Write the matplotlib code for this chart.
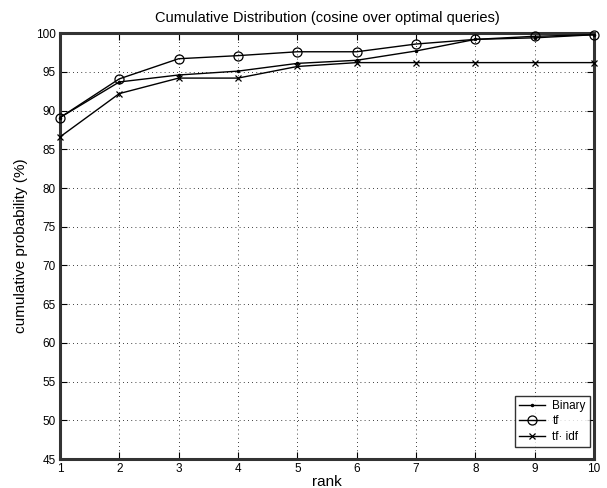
import matplotlib
matplotlib.use("Agg")
import matplotlib.pyplot as plt

plt.rcParams['font.family'] = ['Liberation Sans', 'DejaVu Sans']

rank = [1, 2, 3, 4, 5, 6, 7, 8, 9, 10]
binary = [89.1, 93.7, 94.6, 95.1, 96.1, 96.5, 97.7, 99.2, 99.4, 99.8]
tf = [89.1, 94.1, 96.7, 97.1, 97.6, 97.6, 98.6, 99.2, 99.6, 99.8]
tfidf = [86.6, 92.2, 94.2, 94.2, 95.7, 96.2, 96.2, 96.2, 96.2, 96.2]
yticks = [45, 50, 55, 60, 65, 70, 75, 80, 85, 90, 95, 100]

fig = plt.figure(figsize=(6.07, 4.88), dpi=100)
ax = fig.add_axes([0.0988, 0.0594, 0.8798, 0.8726])

ax.plot(rank, binary, color='black', lw=1, marker='.', ms=3, label='Binary', clip_on=False, zorder=3)
ax.plot(rank, tf, color='black', lw=1, marker='o', ms=6.5, mfc='none', mew=0.9, label='tf', clip_on=False, zorder=3)
ax.plot(rank, tfidf, color='black', lw=1, marker='x', ms=5, mew=0.9, label='tf\u00b7 idf', clip_on=False, zorder=3)

ax.set_xlim(1, 10)
ax.set_ylim(45, 100)
ax.set_xticks(rank)
ax.set_yticks(yticks)
ax.grid(True, color='black', linestyle=(0, (1, 4)), linewidth=0.6)
ax.tick_params(direction='in', top=True, right=True, labelsize=8.5, length=5, width=0.8, pad=3)
for s in ax.spines.values():
    s.set_linewidth(2.2)
    s.set_color('#333333')

ax.set_title('Cumulative Distribution (cosine over optimal queries)', fontsize=10.5, pad=8)
ax.set_xlabel('rank', fontsize=11, labelpad=0)
ax.set_ylabel('cumulative probability (%)', fontsize=11, labelpad=6)

leg = ax.legend(loc='lower right', bbox_to_anchor=(0.9925, 0.028), fontsize=8.5, frameon=True,
                fancybox=False, edgecolor='black', borderpad=0.35, handlelength=2.2,
                labelspacing=0.3, handletextpad=0.6, borderaxespad=0)
leg.get_frame().set_linewidth(1.0)

fig.savefig('out.png', dpi=100)
